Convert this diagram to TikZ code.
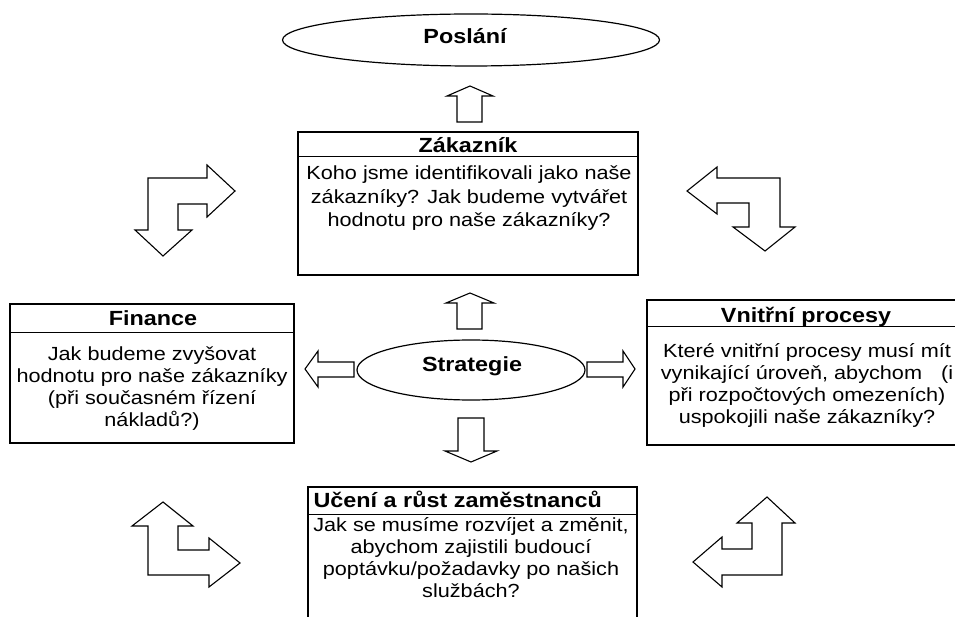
\documentclass[tikz,border=0pt]{standalone}
\usepackage{fontspec}
\setmainfont{Liberation Sans}[FakeStretch=1.14]
\usetikzlibrary{shapes.geometric}

\begin{document}
\begin{tikzpicture}[x=1pt, y=-1pt, line width=1.2pt,
    panel/.style={draw, inner sep=0pt},
    oval/.style={draw, ellipse, inner sep=0pt},
    fatarrow/.style={draw, fill=white, line width=1.1pt, line join=miter},
    headtxt/.style={font=\fontsize{20.5}{24}\selectfont\bfseries, anchor=base, inner sep=0pt},
    bodytxt/.style={font=\fontsize{19}{22.2}\selectfont, align=center, anchor=base, inner sep=0pt}]

    \useasboundingbox (0,0) rectangle (955,617);
    \clip (0,0) rectangle (955,617);

    % Ovals
    \node[oval, minimum width=377pt, minimum height=52pt] (mission) at (471,40) {};
    \node[headtxt] (missiontxt) at (465,44) {Poslání};

    \node[oval, minimum width=228pt, minimum height=60pt] (strategy) at (471,370) {};
    \node[headtxt] (strategytxt) at (472,371) {Strategie};

    % Boxes (body text: base = last line)
    \node[panel, minimum width=340pt, minimum height=143pt] (customer) at (468,203.5) {};
    \draw ([yshift=-25pt]customer.north west) -- ([yshift=-25pt]customer.north east);
    \node[headtxt] (customerhd) at (468,153) {Zákazník};
    \node[bodytxt, font=\fontsize{19}{23.5}\selectfont] (customertxt) at (469,227)
        {Koho jsme identifikovali jako naše\\zákazníky? Jak budeme vytvářet\\hodnotu pro naše zákazníky?};

    \node[panel, minimum width=284pt, minimum height=139pt] (finance) at (152,373.5) {};
    \draw ([yshift=-29pt]finance.north west) -- ([yshift=-29pt]finance.north east);
    \node[headtxt] (financehd) at (153,326) {Finance};
    \node[bodytxt] (financetxt) at (152,426.6)
        {Jak budeme zvyšovat\\hodnotu pro naše zákazníky\\(při současném řízení\\nákladů?)};

    \node[panel, minimum width=320pt, minimum height=145pt] (process) at (807,372.5) {};
    \draw ([yshift=-27pt]process.north west) -- ([yshift=-27pt]process.north east);
    \node[headtxt] (processhd) at (806,323) {Vnitřní procesy};
    \node[bodytxt] (processtxt) at (807,423.6)
        {Které vnitřní procesy musí mít\\vynikající úroveň, abychom\hspace{1em}(i\\při rozpočtových omezeních)\\uspokojili naše zákazníky?};

    \node[panel, minimum width=329pt, minimum height=153pt] (growth) at (472.5,563.5) {};
    \draw ([yshift=-28pt]growth.north west) -- ([yshift=-28pt]growth.north east);
    \node[headtxt, anchor=base west] (growthhd) at (313,507) {Učení a růst zaměstnanců};
    \node[bodytxt] (growthtxt) at (471,597.6)
        {Jak se musíme rozvíjet a změnit,\\abychom zajistili budoucí\\poptávku/požadavky po našich\\službách?};

    % Straight arrows
    \draw[fatarrow] (470,86) -- (493,96) -- (482,96) -- (482,122) -- (457,122) -- (457,96) -- (447,96) -- cycle;
    \draw[fatarrow] (470,293) -- (494,303) -- (482,303) -- (482,329) -- (457,329) -- (457,303) -- (446,303) -- cycle;
    \draw[fatarrow] (471,462) -- (497,451) -- (484,451) -- (484,418) -- (458,418) -- (458,451) -- (445,451) -- cycle;
    \draw[fatarrow] (635,369) -- (623,351) -- (623,362) -- (587,362) -- (587,377) -- (623,377) -- (623,387) -- cycle;
    \draw[fatarrow] (305,369) -- (318,351) -- (318,362) -- (354,362) -- (354,377) -- (318,377) -- (318,387) -- cycle;

    % Corner arrows
    \draw[fatarrow] (148,178) -- (207,178) -- (207,165) -- (235,191) -- (207,217) -- (207,204) -- (178,204)
        -- (178,230) -- (192,230) -- (163,256) -- (135,230) -- (148,230) -- cycle;
    \draw[fatarrow] (687,191) -- (717,167) -- (717,178) -- (780,178) -- (780,227) -- (795,227) -- (765,251)
        -- (733,227) -- (749,227) -- (749,203) -- (717,203) -- (717,214) -- cycle;
    \draw[fatarrow] (163,502) -- (193,526) -- (178,526) -- (178,550) -- (209,550) -- (209,538) -- (240,563)
        -- (209,587) -- (209,575) -- (148,575) -- (148,526) -- (132,526) -- cycle;
    \draw[fatarrow] (767,497) -- (795,523) -- (782,523) -- (782,575) -- (722,575) -- (722,587) -- (693,562)
        -- (722,537) -- (722,549) -- (752,549) -- (752,523) -- (737,523) -- cycle;
\end{tikzpicture}
\end{document}
